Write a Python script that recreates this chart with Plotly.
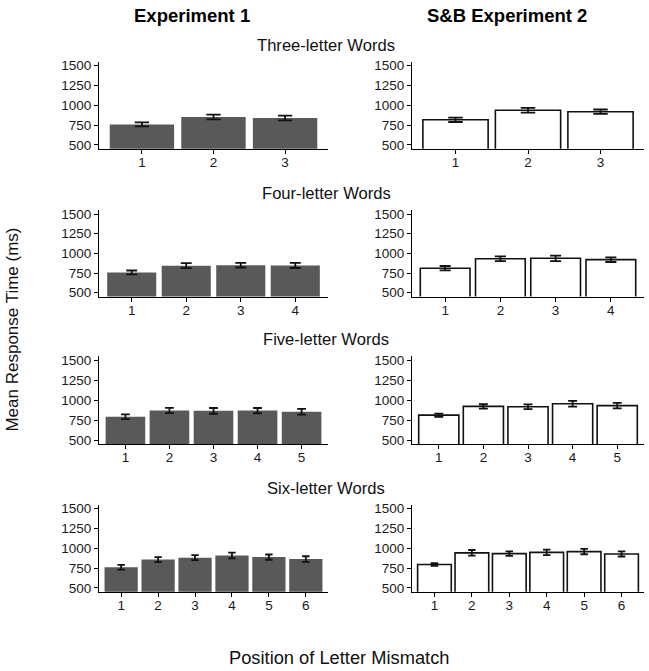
import plotly.graph_objects as go

# ---- data ----
row_titles = ["Three-letter Words", "Four-letter Words", "Five-letter Words", "Six-letter Words"]
col_titles = ["Experiment 1", "S&B Experiment 2"]

pos3 = [1, 2, 3]
pos4 = [1, 2, 3, 4]
pos5 = [1, 2, 3, 4, 5]
pos6 = [1, 2, 3, 4, 5, 6]

exp1_3 = [758, 850, 838]
exp1_3_se = [25, 30, 30]
exp1_4 = [757, 843, 850, 847]
exp1_4_se = [25, 32, 30, 33]
exp1_5 = [792, 870, 866, 869, 854]
exp1_5_se = [29, 33, 36, 33, 36]
exp1_6 = [760, 857, 881, 909, 888, 864]
exp1_6_se = [30, 32, 32, 37, 33, 35]

sb2_3 = [816, 936, 918]
sb2_3_se = [28, 30, 28]
sb2_4 = [811, 932, 937, 920]
sb2_4_se = [28, 30, 35, 30]
sb2_5 = [812, 922, 918, 955, 932]
sb2_5_se = [20, 27, 30, 37, 35]
sb2_6 = [795, 942, 932, 948, 958, 928]
sb2_6_se = [16, 36, 28, 34, 34, 32]

y_ticks = [500, 750, 1000, 1250, 1500]
y_range = [450, 1550]

x_title = "Position of Letter Mismatch"
y_title = "Mean Response Time (ms)"

# ---- layout geometry (pixels) ----
W, H = 649, 671
col_x = [(99, 328), (412, 644)]
row_y = [(59.3, 147.3), (209.3, 296.7), (357, 445.7), (507, 595)]

FONT = "Liberation Sans, Arial, sans-serif"
TICKFONT = dict(size=13.5, color="#1a1a1a", family=FONT)

fig = go.Figure()

panels = [
    [(pos3, exp1_3, exp1_3_se), (pos3, sb2_3, sb2_3_se)],
    [(pos4, exp1_4, exp1_4_se), (pos4, sb2_4, sb2_4_se)],
    [(pos5, exp1_5, exp1_5_se), (pos5, sb2_5, sb2_5_se)],
    [(pos6, exp1_6, exp1_6_se), (pos6, sb2_6, sb2_6_se)],
]

layout_axes = {}
k = 0
for r in range(4):
    for c in range(2):
        k += 1
        xs, ys, se = panels[r][c]
        n = len(xs)
        x0, x1 = col_x[c]
        y0, y1 = row_y[r]
        spacing = (x1 - x0) / (n + 0.2)
        xa = "x" if k == 1 else f"x{k}"
        ya = "y" if k == 1 else f"y{k}"
        if c == 0:
            marker = dict(color="#595959", line=dict(width=0))
        else:
            marker = dict(color="white", line=dict(color="#111111", width=1.6))
        fig.add_trace(go.Bar(
            x=xs, y=ys, width=0.9, marker=marker,
            error_y=dict(type="data", array=se, visible=True,
                         color="#111111", thickness=1.8,
                         width=max(3, 0.1 * spacing)),
            xaxis=xa, yaxis=ya, showlegend=False, hoverinfo="x+y",
        ))
        xkey = "xaxis" if k == 1 else f"xaxis{k}"
        ykey = "yaxis" if k == 1 else f"yaxis{k}"
        layout_axes[xkey] = dict(
            domain=[x0 / W, x1 / W], anchor=ya,
            range=[0.4, n + 0.6], tickvals=xs, ticktext=[str(v) for v in xs],
            showgrid=False, zeroline=False, showline=True, linecolor="black",
            linewidth=1.2, ticks="outside", ticklen=4, tickwidth=1,
            tickcolor="black", tickfont=TICKFONT, ticklabelstandoff=-3,
            fixedrange=True,
        )
        layout_axes[ykey] = dict(
            domain=[1 - y1 / H, 1 - y0 / H], anchor=xa,
            range=y_range, tickvals=y_ticks, ticktext=[str(v) for v in y_ticks],
            showgrid=False, zeroline=False, showline=True, linecolor="black",
            linewidth=1.2, ticks="outside", ticklen=4, tickwidth=1,
            tickcolor="black", tickfont=TICKFONT,
            fixedrange=True,
        )

annotations = []
# column titles
for c, t in enumerate(col_titles):
    cx = [192, 507][c]
    annotations.append(dict(text=f"<b>{t}</b>", x=cx / W, y=1 - 13 / H,
                            xref="paper", yref="paper", showarrow=False,
                            xanchor="center", yanchor="middle",
                            font=dict(size=18.5, color="black", family=FONT)))
# row titles
for r, t in enumerate(row_titles):
    ty = row_y[r][0] - 16.5
    annotations.append(dict(text=t, x=326 / W, y=1 - ty / H,
                            xref="paper", yref="paper", showarrow=False,
                            xanchor="center", yanchor="middle",
                            font=dict(size=16.6, color="#111111", family=FONT)))
# axis titles
annotations.append(dict(text=x_title, x=339 / W, y=1 - 661 / H,
                        xref="paper", yref="paper", showarrow=False,
                        xanchor="center", yanchor="middle",
                        font=dict(size=18.3, color="#111111", family=FONT)))
annotations.append(dict(text=y_title, x=13 / W, y=1 - 330 / H,
                        xref="paper", yref="paper", showarrow=False,
                        xanchor="center", yanchor="middle", textangle=-90,
                        font=dict(size=17, color="#111111", family=FONT)))

fig.update_layout(
    width=W, height=H,
    margin=dict(l=0, r=0, t=0, b=0),
    paper_bgcolor="white", plot_bgcolor="white",
    bargap=0.1, annotations=annotations,
    font=dict(family=FONT),
    **layout_axes,
)

fig.write_html("out.html", config={"displayModeBar": False},
               post_script="document.body.style.margin='0px';document.body.style.overflow='hidden';")
